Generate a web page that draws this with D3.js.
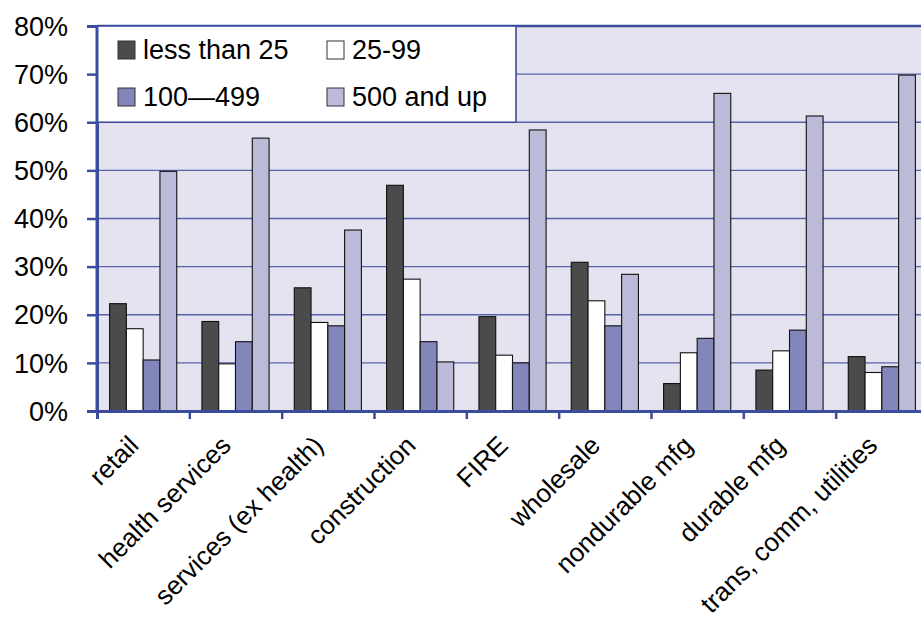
<!DOCTYPE html>
<html>
<head>
<meta charset="utf-8">
<script src="https://cdn.jsdelivr.net/npm/d3@7"></script>
<style>
  html, body { margin: 0; padding: 0; background: #fff; }
  svg { display: block; }
  text { font-family: "Liberation Sans", Arial, sans-serif; fill: #000; }
</style>
</head>
<body>
<svg id="chart" width="921" height="624"></svg>
<script>
// Share of employment by establishment size, per industry
const categories = ["retail", "health services", "services (ex health)", "construction",
  "FIRE", "wholesale", "nondurable mfg", "durable mfg", "trans, comm, utilities"];
const seriesNames = ["less than 25", "25-99", "100\u2014499", "500 and up"];
const lessThan25 = [22.3, 18.6, 25.6, 46.9, 19.6, 30.9, 5.7, 8.5, 11.3];
const from25to99 = [17.1, 9.8, 18.4, 27.4, 11.6, 22.9, 12.1, 12.5, 8.0];
const from100to499 = [10.6, 14.4, 17.7, 14.4, 10.0, 17.7, 15.1, 16.8, 9.2];
const from500up = [49.8, 56.7, 37.6, 10.2, 58.4, 28.4, 66.0, 61.3, 69.8];
const yTicks = [0, 10, 20, 30, 40, 50, 60, 70, 80];

const seriesValues = [lessThan25, from25to99, from100to499, from500up];
const colors = ["#4b4b4b", "#ffffff", "#8386ba", "#bbbad8"];
const axisColor = "#3b4d9c";
const gridColor = "#5564aa";

const svg = d3.select("#chart");
const plotLeft = 97, plotRight = 928, plotTop = 26, plotBottom = 411;

const x = d3.scaleBand().domain(categories).range([plotLeft, plotRight]).paddingInner(0).paddingOuter(0);
const xs = d3.scaleBand().domain(d3.range(seriesNames.length))
  .range([0, x.bandwidth()]).paddingInner(0).paddingOuter(0.75);
const y = d3.scaleLinear().domain([0, 80]).range([plotBottom, plotTop]);

// plot background
svg.append("rect").attr("x", plotLeft).attr("y", plotTop)
  .attr("width", plotRight - plotLeft).attr("height", plotBottom - plotTop).attr("fill", "#e4e3ef");

// gridlines
svg.append("g").selectAll("line").data(yTicks.filter(d => d > 0 && d < 80)).join("line")
  .attr("x1", plotLeft).attr("x2", plotRight)
  .attr("y1", d => y(d)).attr("y2", d => y(d))
  .attr("stroke", gridColor).attr("stroke-width", 1.3);

// top border
svg.append("line").attr("x1", plotLeft).attr("x2", plotRight).attr("y1", plotTop).attr("y2", plotTop)
  .attr("stroke", axisColor).attr("stroke-width", 2.5);

// bars
const rows = categories.map((c, i) => ({ c, vals: seriesValues.map(s => s[i]) }));
const groups = svg.append("g").selectAll("g").data(rows).join("g")
  .attr("transform", d => `translate(${x(d.c)},0)`);
groups.selectAll("rect").data(d => d.vals.map((v, k) => ({ v, k }))).join("rect")
  .attr("x", d => xs(d.k)).attr("width", xs.bandwidth())
  .attr("y", d => y(d.v)).attr("height", d => y(0) - y(d.v))
  .attr("fill", d => colors[d.k]).attr("stroke", "#111").attr("stroke-width", 1.1);

// left axis
const yAxis = d3.axisLeft(y).tickValues(yTicks).tickFormat(d => d + "%").tickSize(10).tickPadding(19);
const ya = svg.append("g").attr("transform", `translate(${plotLeft},0)`).call(yAxis);
ya.select(".domain").attr("stroke", axisColor).attr("stroke-width", 3);
ya.selectAll(".tick line").attr("stroke", axisColor).attr("stroke-width", 2.5);
ya.selectAll(".tick text").attr("font-size", 27).attr("font-family", "Liberation Sans, Arial, sans-serif")
  .attr("fill", "#000").attr("dy", "0.34em");

// bottom axis: ticks at category boundaries
const xb = d3.scaleLinear().domain([0, categories.length]).range([plotLeft, plotRight]);
const xAxis = d3.axisBottom(xb).tickValues(d3.range(0, categories.length + 1)).tickSize(8).tickFormat("");
const xa = svg.append("g").attr("transform", `translate(0,${plotBottom})`).call(xAxis);
xa.select(".domain").attr("stroke", axisColor).attr("stroke-width", 3);
xa.selectAll(".tick line").attr("stroke", axisColor).attr("stroke-width", 2.5);

// category labels, rotated
svg.append("g").selectAll("text").data(categories).join("text")
  .attr("transform", d => `translate(${x(d) + x.bandwidth() / 2 - 3},${plotBottom + 36}) rotate(-45)`)
  .attr("text-anchor", "end").attr("font-size", 26).text(d => d);

// legend
const lg = svg.append("g");
lg.append("rect").attr("x", plotLeft).attr("y", plotTop).attr("width", 419).attr("height", y(60) - plotTop)
  .attr("fill", "#fff").attr("stroke", axisColor).attr("stroke-width", 1.6);
const legendPos = [[118, 59], [327, 59], [118, 106], [327, 106]];
seriesNames.forEach((name, k) => {
  const [lx, ly] = legendPos[k];
  lg.append("rect").attr("x", lx).attr("y", ly - 18).attr("width", 17).attr("height", 18)
    .attr("fill", colors[k]).attr("stroke", "#333").attr("stroke-width", 1);
  lg.append("text").attr("x", lx + 25).attr("y", ly).attr("font-size", 27).text(name);
});

// left axis line drawn over the legend border
svg.append("line").attr("x1", plotLeft).attr("x2", plotLeft).attr("y1", plotTop - 1).attr("y2", plotBottom)
  .attr("stroke", axisColor).attr("stroke-width", 3);
</script>
</body>
</html>
